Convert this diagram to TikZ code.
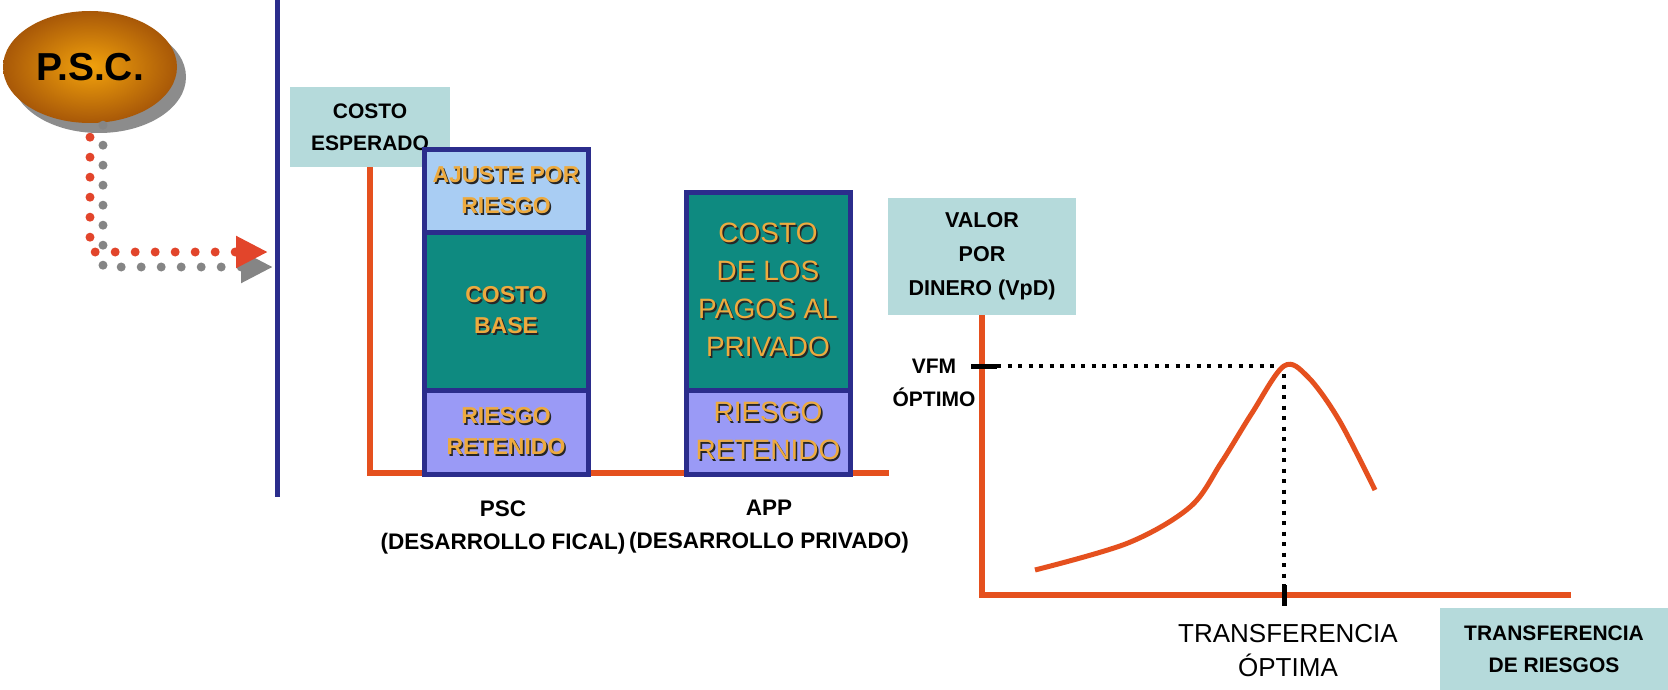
\documentclass[tikz,border=0pt]{standalone}
\usepackage{fontspec}
\setmainfont{Liberation Sans}
\usetikzlibrary{arrows.meta,calc,positioning,shapes.geometric,shadows}
\definecolor{axisor}{HTML}{E5501E}
\definecolor{barblue}{HTML}{2B2D8C}
\definecolor{topblue}{HTML}{A9CDF3}
\definecolor{basetl}{HTML}{0E8A80}
\definecolor{lavrisk}{HTML}{9A9AF6}
\definecolor{infobg}{HTML}{B5DADB}
\definecolor{goldtx}{HTML}{EDAA3E}
\definecolor{dotred}{HTML}{E2452B}
\definecolor{dotgray}{HTML}{858585}
\definecolor{pscin}{HTML}{F2A20C}
\definecolor{pscout}{HTML}{A85808}
\newcommand{\shtx}[1]{\makebox[0pt][l]{\kern1.6pt\raisebox{-1.6pt}{\textcolor{black!85}{#1}}}#1}
\tikzset{
  infobox/.style={fill=infobg,inner sep=0pt,align=center,font=\bfseries\fontsize{21}{32}\selectfont},
  infotext/.style={inner sep=0pt,align=center,font=\bfseries\fontsize{22.5}{33}\selectfont},
  segbox/.style={draw=barblue,line width=5pt,inner sep=0pt,outer sep=0pt,minimum width=164pt,align=center,text=goldtx},
  psctx/.style={font=\bfseries\fontsize{23}{31}\selectfont},
  apptx/.style={font=\fontsize{28}{38}\selectfont},
  pscbubble/.style={ellipse,minimum width=174pt,minimum height=112pt,inner color=pscin,outer color=pscout,
    drop shadow={shadow xshift=9pt,shadow yshift=-10pt,fill=black!45,opacity=1},font=\bfseries\fontsize{39}{40}\selectfont},
  dotarrow/.style={line width=9pt,line cap=round,dash pattern=on 0pt off 20pt,-{Triangle[length=32pt,width=30pt]}},
  bluebar/.style={barblue,line width=5pt},
  axisline/.style={axisor,line width=6pt},
  curveline/.style={axisor,line width=5pt},
  dotline/.style={black,line width=4pt,dash pattern=on 4pt off 6.5pt},
  tickline/.style={black,line width=5pt}
}
\begin{document}
\begin{tikzpicture}[x=1pt,y=-1pt,>=Stealth]
\useasboundingbox[fill=white] (0,0) rectangle (1668,690);
% --- P.S.C. bubble pointing at the cost chart
\node[pscbubble] (psc) at (90,67) {P.S.C.};
\draw[bluebar] (277,0) -- (277,497);
\coordinate (tip) at (268,252);
\draw[dotarrow,dotgray] ([shift={(13,2)}]psc.south) |- ([shift={(5,15)}]tip);
\draw[dotarrow,dotred] ([yshift=-14pt]psc.south) |- (tip);
% --- expected cost chart
\node[infobox,minimum width=160pt,minimum height=80pt] (costoesp) at (370,127) {COSTO\\ESPERADO};
\coordinate (xend1) at (889,473);
\draw[axisline] (costoesp.south) |- (xend1);
\node[segbox,psctx,fill=topblue,minimum height=82pt] (ajuste) at (506,191) {\shtx{AJUSTE POR}\\\shtx{RIESGO}};
\node[segbox,psctx,fill=basetl,minimum height=158pt,below=0pt of ajuste] (base) {\shtx{COSTO}\\\shtx{BASE}};
\node[segbox,psctx,fill=lavrisk,minimum height=84pt,below=0pt of base] (rretpsc) {\shtx{RIESGO}\\\shtx{RETENIDO}};
\node[segbox,apptx,fill=basetl,minimum height=198pt] (pagos) at (768,291) {\shtx{COSTO}\\\shtx{DE LOS}\\\shtx{PAGOS AL}\\\shtx{PRIVADO}};
\node[segbox,apptx,fill=lavrisk,minimum height=84pt,below=0pt of pagos] (rretapp) {\shtx{RIESGO}\\\shtx{RETENIDO}};
\node[infotext] (psclab) at (503,527) {PSC\\(DESARROLLO FICAL)};
\node[infotext] (applab) at (769,527) {APP\\(DESARROLLO PRIVADO)};
% --- value for money chart
\node[infobox,font=\bfseries\fontsize{21.5}{34}\selectfont,minimum width=188pt,minimum height=117pt] (valor) at (982,256.5) {VALOR\\POR\\DINERO (VpD)};
\coordinate (xend2) at (1571,595);
\draw[axisline] (valor.south) |- (xend2);
\coordinate (peak) at (1284,366);
\coordinate (vfmy) at (valor.south |- peak);
\coordinate (optx) at (peak |- xend2);
\node[infotext,font=\bfseries\fontsize{21}{33}\selectfont] (vfm) at (934,383) {VFM\\ÓPTIMO};
\draw[tickline] ([xshift=-11pt]vfmy) -- ([xshift=15pt]vfmy);
\draw[dotline] ([xshift=15pt]vfmy) -- ([xshift=-4pt]peak);
\draw[dotline] ([yshift=-8pt]peak) -- ([yshift=10pt]optx);
\draw[tickline] ([yshift=10pt]optx) -- ([yshift=-11pt]optx);
\draw[curveline] plot[smooth,tension=0.55] coordinates {(1035,570) (1128,543) (1190,507) (1221,463) (1252,413) (1284,366) (1308,377) (1339,420) (1375,490)};
\node[inner sep=0pt,align=center,font=\fontsize{26}{34}\selectfont] (optlab) at (1288,651) {TRANSFERENCIA\\ÓPTIMA};
\node[infobox,minimum width=228pt,minimum height=82pt] (riesgos) at (1554,649) {TRANSFERENCIA\\DE RIESGOS};
\end{tikzpicture}
\end{document}
